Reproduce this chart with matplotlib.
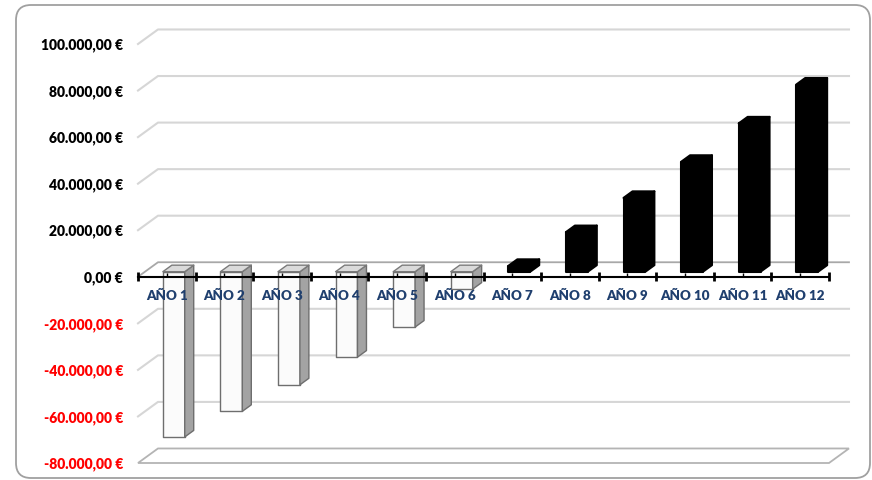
import matplotlib.pyplot as plt
from matplotlib.patches import Polygon, FancyBboxPatch

# cumulative cash flow per year (EUR)
years = ["AÑO 1", "AÑO 2", "AÑO 3", "AÑO 4", "AÑO 5", "AÑO 6",
         "AÑO 7", "AÑO 8", "AÑO 9", "AÑO 10", "AÑO 11", "AÑO 12"]
cash_flow = [-71000, -60000, -48600, -36700, -23800, -7500,
             2500, 17000, 31700, 47200, 63700, 80400]
y_ticks = [-80000, -60000, -40000, -20000, 0, 20000, 40000, 60000, 80000, 100000]

plt.rcParams['font.family'] = ['Lato', 'DejaVu Sans']

# depth of the 3d box, in data units (categories, euros)
DX = 0.347
DY = 6240
BAR_W = 0.38
D_FRONT, D_BACK = 0.35, 0.80


def proj(x, y, d):
    return (x + d * DX, y + d * DY)


def euro(v):
    s = f"{v:,.2f}"
    return s.replace(",", "X").replace(".", ",").replace("X", ".") + " €"


fig = plt.figure(figsize=(8.72, 4.8), dpi=100)
ax = fig.add_axes([138 / 872, 17 / 480, 691 / 872, 419 / 480])
ax.set_xlim(0, 12)
ax.set_ylim(min(y_ticks), max(y_ticks))
for s in ax.spines.values():
    s.set_visible(False)
ax.set_xticks([])
ax.set_yticks(y_ticks)
ax.set_yticklabels([euro(v) for v in y_ticks], fontsize=10, fontweight='heavy')
for lab, v in zip(ax.get_yticklabels(), y_ticks):
    lab.set_color('#FF0000' if v < 0 else 'black')
ax.tick_params(axis='y', length=0, pad=10.8)

n = len(years)
grid_col = '#D6D6D6'

# back wall and side wall gridlines
for v in y_ticks:
    if v in (0, min(y_ticks)):
        continue
    xs, ys = zip(proj(0, v, 0), proj(0, v, 1), proj(n, v, 1))
    ax.plot(xs, ys, color=grid_col, lw=1.5, clip_on=False, zorder=1)

# floor
floor = [proj(0, min(y_ticks), 0), proj(n, min(y_ticks), 0),
         proj(n, min(y_ticks), 1), proj(0, min(y_ticks), 1)]
ax.add_patch(Polygon(floor, closed=True, facecolor='white', edgecolor='#B4B4B4',
                     lw=1.3, clip_on=False, zorder=1))

# zero plane
xs, ys = zip(proj(0, 0, 0), proj(0, 0, 1), proj(n, 0, 1))
ax.plot(xs, ys, color='#A8A8A8', lw=1.3, clip_on=False, zorder=1)

# bars
for i, v in enumerate(cash_flow):
    c = i + 0.5
    x0, x1 = c - BAR_W / 2, c + BAR_W / 2
    top = max(v, 0)
    front = [proj(x0, 0, D_FRONT), proj(x1, 0, D_FRONT), proj(x1, v, D_FRONT), proj(x0, v, D_FRONT)]
    side = [proj(x1, 0, D_FRONT), proj(x1, 0, D_BACK), proj(x1, v, D_BACK), proj(x1, v, D_FRONT)]
    lid = [proj(x0, top, D_FRONT), proj(x1, top, D_FRONT), proj(x1, top, D_BACK), proj(x0, top, D_BACK)]
    if v < 0:
        styles = [(front, '#FBFBFB', '#6E6E6E'), (side, '#A3A3A3', '#6E6E6E'),
                  (lid, '#DADADA', '#7A7A7A')]
        lw = 1.0
    else:
        styles = [(front, 'black', 'black'), (side, 'black', 'black'), (lid, 'black', 'black')]
        lw = 1.5
    for pts, fc, ec in styles:
        ax.add_patch(Polygon(pts, closed=True, facecolor=fc, edgecolor=ec, lw=lw,
                             joinstyle='round', clip_on=False, zorder=3))

# category axis at zero
ax.plot([0, n], [0, 0], color='black', lw=1.5, clip_on=False, zorder=4)
ax.vlines(range(n + 1), -1900, 1900, colors='black', lw=2, clip_on=False, zorder=4)
ax.vlines([i + 0.5 for i in range(n)], 0, 1800, colors='black', lw=1, clip_on=False, zorder=4)
for i, name in enumerate(years):
    ax.annotate(name, (i + 0.5, 0), xytext=(0, -13.7), textcoords='offset points',
                ha='center', va='center', fontsize=9.6, fontweight='heavy',
                color='#1F3F6E', zorder=5)

# rounded frame
frame = FancyBboxPatch((0.16, 0.02), 8.54, 4.73, boxstyle='round,pad=0,rounding_size=0.15',
                       transform=fig.dpi_scale_trans, facecolor='none',
                       edgecolor='#A0A0A0', lw=1.3)
fig.patches.append(frame)

fig.savefig('out.png', dpi=100)
